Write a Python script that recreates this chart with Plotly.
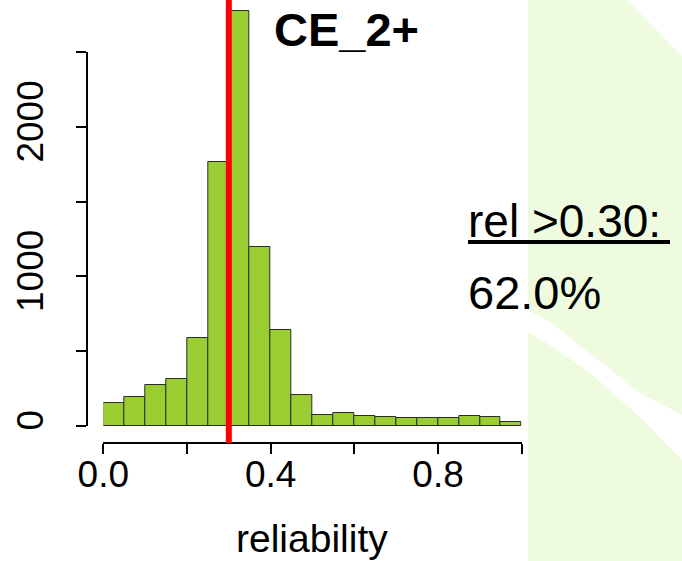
import plotly.graph_objects as go

# ---- data ----
bin_starts = [0.00, 0.05, 0.10, 0.15, 0.20, 0.25, 0.30, 0.35, 0.40, 0.45,
              0.50, 0.55, 0.60, 0.65, 0.70, 0.75, 0.80, 0.85, 0.90, 0.95]
bin_width = 0.05
counts = [150, 190, 275, 315, 587, 1765, 2778, 1198, 644, 206,
          72, 85, 65, 58, 54, 54, 50, 63, 56, 27]
threshold = 0.30
pct_above = "62.0%"
title_text = "CE_2+"
x_tickvals = [0.0, 0.2, 0.4, 0.6, 0.8, 1.0]
x_ticktext = ["0.0", "", "0.4", "", "0.8", ""]
y_tickvals = [0, 500, 1000, 1500, 2000, 2500]
y_ticktext = ["0", "", "1000", "", "2000", ""]

W, H = 682, 561
def px(x):
    return x / W
def py(y):
    return 1 - y / H

FONT = "Liberation Sans, Arial, Helvetica, sans-serif"
centers = [s + bin_width / 2 for s in bin_starts]

fig = go.Figure()
fig.add_trace(go.Bar(
    x=centers, y=counts, width=bin_width,
    marker=dict(color="#9ACD32", line=dict(color="#2b2b2b", width=1)),
    xaxis="x", yaxis="y", hoverinfo="x+y", showlegend=False,
))
# invisible trace so the detached R-style y axis is drawn
fig.add_trace(go.Scatter(x=[0.5], y=[0], xaxis="x", yaxis="y2", mode="markers",
                         marker=dict(opacity=0), hoverinfo="skip", showlegend=False))

# scale: 0 -> px 425.7, 2500 -> px 52.3
ppu = (425.7 - 52.3) / 2500.0
y_bottom_px = 442.3
y_lo = -(y_bottom_px - 425.7) / ppu
y_hi = 425.7 / ppu

axis_font = dict(family=FONT, size=37, color="black")
fig.update_layout(
    width=W, height=H, margin=dict(l=0, r=0, t=0, b=0, autoexpand=False),
    paper_bgcolor="white", plot_bgcolor="rgba(0,0,0,0)",
    showlegend=False, bargap=0,
    xaxis=dict(domain=[px(103.3), px(521.7)], range=[0, 1], automargin=False,
               showline=True, linecolor="black", linewidth=2,
               ticks="outside", ticklen=10, tickwidth=2, tickcolor="black",
               tickvals=x_tickvals, ticktext=x_ticktext, tickfont=axis_font,
               ticklabelstandoff=-12,
               showgrid=False, zeroline=False, anchor="y"),
    yaxis=dict(domain=[py(y_bottom_px), 1], range=[y_lo, y_hi], automargin=False,
               visible=False, showgrid=False, zeroline=False),
    yaxis2=dict(domain=[py(425.7), py(52.3)], range=[0, 2500], automargin=False,
                anchor="free", position=px(87), side="left",
                showline=True, linecolor="black", linewidth=2,
                ticks="outside", ticklen=10, tickwidth=2, tickcolor="black",
                tickvals=y_tickvals, ticktext=y_ticktext, tickangle=-90,
                tickfont=axis_font, ticklabelstandoff=18,
                showgrid=False, zeroline=False),
)

# light green slide background with white band
green = "#EEFBDF"
upper = [(528, 0), (627, 0), (682, 56), (682, 415), (640, 393), (550, 322), (528, 310)]
lower = [(528, 332), (553, 347), (590, 373), (640, 417), (682, 460), (682, 561), (528, 561)]
for poly in (upper, lower):
    path = "M " + " L ".join(f"{px(a):.5f},{py(b):.5f}" for a, b in poly) + " Z"
    fig.add_shape(type="path", path=path, xref="paper", yref="paper",
                  fillcolor=green, line=dict(width=0), layer="below")

# threshold line
fig.add_shape(type="line", xref="x", yref="paper", x0=threshold, x1=threshold,
              y0=py(443), y1=1, line=dict(color="#FF0000", width=6))

# texts
fig.add_annotation(text=f"<b>{title_text}</b>", xref="paper", yref="paper",
                   x=px(346), y=py(29), xanchor="center", yanchor="middle",
                   showarrow=False, font=dict(family=FONT, size=47, color="black"))
fig.add_annotation(text=f"rel >{threshold:.2f}:", xref="paper", yref="paper",
                   x=px(466), y=py(221), xanchor="left", yanchor="middle",
                   showarrow=False, font=dict(family=FONT, size=46, color="black"))
fig.add_shape(type="line", xref="paper", yref="paper", x0=px(468), x1=px(670),
              y0=py(242), y1=py(242), line=dict(color="black", width=4))
fig.add_annotation(text=pct_above, xref="paper", yref="paper",
                   x=px(466), y=py(292), xanchor="left", yanchor="middle",
                   showarrow=False, font=dict(family=FONT, size=47, color="black"))
fig.add_annotation(text="reliability", xref="paper", yref="paper",
                   x=px(312), y=py(538), xanchor="center", yanchor="middle",
                   showarrow=False, font=dict(family=FONT, size=39, color="black"))

fig.write_html("out.html")
